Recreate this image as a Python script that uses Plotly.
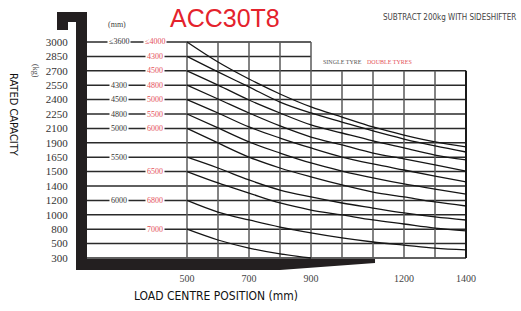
import plotly.graph_objects as go

# ---------------- data ----------------
capacity_labels = ["300", "500", "800", "1000", "1200", "1400", "1500", "1650",
                   "1900", "2100", "2250", "2400", "2550", "2700", "2850", "3000"]
capacity_rows = list(range(16))          # evenly spaced capacity rows (row index)

load_centres = [500, 600, 700, 800, 900, 1000, 1100, 1200, 1300, 1400]
x_tick_vals = [500, 700, 900, 1200, 1400]

# curves: capacity (in row units of the capacity scale) vs load centre
curve_3600_4000 = [15.0, 13.61, 12.43, 11.39, 10.49, 9.79, 9.10, 8.54, 8.06, 7.71]
curve_d4300 = [14.0, 12.92, 11.88, 10.83, 10.07, 9.44, 8.82, 8.26, 7.78, 7.36]
curve_d4500 = [13.0, 12.01, 10.97, 10.07, 9.24, 8.68, 8.13, 7.64, 7.15, 6.81]
curve_4300_4800 = [12.0, 11.04, 10.07, 9.17, 8.40, 7.85, 7.29, 6.88, 6.46, 6.04]
curve_4500_5000 = [11.0, 10.07, 9.10, 8.33, 7.64, 7.01, 6.53, 6.11, 5.69, 5.28]
curve_4800_5500 = [10.0, 9.03, 8.06, 7.29, 6.60, 6.04, 5.56, 5.14, 4.79, 4.44]
curve_5000_6000 = [9.0, 7.99, 7.01, 6.25, 5.63, 5.07, 4.58, 4.24, 3.89, 3.61]
curve_s5500 = [7.0, 6.25, 5.42, 4.72, 4.24, 3.82, 3.47, 3.13, 2.85, 2.64]
curve_d6500 = [6.0, 5.21, 4.51, 3.82, 3.33, 2.99, 2.64, 2.36, 2.08, 1.88]
curve_6000_6800 = [4.0, 3.19, 2.64, 2.15, 1.74, 1.39, 1.11, 0.90, 0.69, 0.56]
curve_d7000 = [2.0, 1.25, 0.69, 0.28, 0.0]

curves = [curve_3600_4000, curve_d4300, curve_d4500, curve_4300_4800,
          curve_4500_5000, curve_4800_5500, curve_5000_6000, curve_s5500,
          curve_d6500, curve_6000_6800, curve_d7000]

# mast heights (mm) written on the capacity rows
single_rows = [15, 12, 11, 10, 9, 7, 4]
single_labels = ["≤3600", "4300", "4500", "4800", "5000", "5500", "6000"]
double_rows = [15, 14, 13, 12, 11, 10, 9, 6, 4, 2]
double_labels = ["≤4000", "4300", "4500", "4800", "5000", "5500", "6000",
                 "6500", "6800", "7000"]

grid_x = [500, 600, 700, 800, 900, 1000, 1100, 1200, 1300, 1400]

# ---------------- layout geometry ----------------
W, H = 521, 311
L, R, T, B = 87, 51, 5, 47
PW, PH = W - L - R, H - T - B
X_RANGE = [177.42, 1412.9]
Y_RANGE = [-0.4167, 17.569]


def px(xp):
    return (xp - L) / PW


def py(yp):
    return (H - B - yp) / PH


fig = go.Figure()

for c in curves:
    fig.add_trace(go.Scatter(x=load_centres[:len(c)], y=c, mode="lines",
                             line=dict(color="#151515", width=1.3, shape="spline"),
                             hoverinfo="skip", showlegend=False))

shapes = []
# horizontal grid lines
for r in capacity_rows:
    x_end = 900 if r >= 14 else 1400
    shapes.append(dict(type="line", xref="x", yref="y", x0=X_RANGE[0], x1=x_end,
                       y0=r, y1=r, line=dict(color="#2a2a2a", width=1.5), layer="below"))
# vertical grid lines
for gx in grid_x:
    top = 15 if gx <= 900 else 13
    shapes.append(dict(type="line", xref="x", yref="y", x0=gx, x1=gx, y0=0, y1=top,
                       line=dict(color="#1a1a1a" if gx == 1400 else "#5a5a5a",
                                 width=2 if gx == 1400 else 1.5), layer="below"))

# thick black frame (decoration)
frame_pts = [(57, 12), (87, 12), (87, 259), (375, 259), (375, 263), (280, 270),
             (76, 270), (76, 22), (68, 22), (68, 30), (57, 30)]
path = "M " + " L ".join(f"{px(a):.4f},{py(b):.4f}" for a, b in frame_pts) + " Z"
shapes.append(dict(type="path", xref="paper", yref="paper", path=path,
                   fillcolor="#231f20", line=dict(width=0), layer="above"))

annotations = []
SERIF = "Liberation Serif, Times New Roman, serif"
NARROW = "DejaVu Sans Condensed, Liberation Sans Narrow, sans-serif"
C = dict(xanchor="center", yanchor="middle", showarrow=False)
for r, t in zip(single_rows, single_labels):
    annotations.append(dict(x=px(119), xref="paper", y=r, yref="y", text=t,
                            bgcolor="white", borderpad=1,
                            font=dict(family=SERIF, size=8, color="#333"), **C))
for r, t in zip(double_rows, double_labels):
    annotations.append(dict(x=px(155), xref="paper", y=r, yref="y", text=t,
                            bgcolor="white", borderpad=1,
                            font=dict(family=SERIF, size=8, color="#e4505a"), **C))

annotations += [
    dict(x=px(225), y=py(18), xref="paper", yref="paper", text="ACC30T8",
         font=dict(family="Liberation Sans, Arial, sans-serif",
                   size=25, color="#e4222c"), **C),
    dict(x=px(518), y=py(17), xref="paper", yref="paper", xanchor="right",
         yanchor="middle", showarrow=False,
         text="SUBTRACT 200kg WITH SIDESHIFTER",
         font=dict(family=NARROW, size=8, color="#444")),
    dict(x=px(117), y=py(25), xref="paper", yref="paper", text="(mm)",
         font=dict(family=SERIF, size=8, color="#444"), **C),
    dict(x=px(36), y=py(71), xref="paper", yref="paper", text="(kg)", textangle=90,
         font=dict(family=SERIF, size=8, color="#444"), **C),
    dict(x=px(14), y=py(115), xref="paper", yref="paper", text="RATED CAPACITY",
         textangle=90, font=dict(family=NARROW, size=11, color="#111"), **C),
    dict(x=px(216), y=py(296), xref="paper", yref="paper",
         text="LOAD CENTRE POSITION (mm)",
         font=dict(family=NARROW, size=12, color="#111"), **C),
    dict(x=px(321), y=py(62), xref="paper", yref="paper", xanchor="left",
         yanchor="middle", showarrow=False, text="SINGLE TYRE",
         font=dict(family=SERIF, size=6, color="#555")),
    dict(x=px(365), y=py(62), xref="paper", yref="paper", xanchor="left",
         yanchor="middle", showarrow=False, text="DOUBLE TYRES",
         font=dict(family=SERIF, size=6, color="#e4505a")),
]

fig.update_layout(
    width=W, height=H, autosize=False,
    margin=dict(l=L, r=R, t=T, b=B, pad=0),
    paper_bgcolor="white", plot_bgcolor="white",
    shapes=shapes, annotations=annotations, showlegend=False,
    xaxis=dict(range=X_RANGE, showgrid=False, zeroline=False, showline=False,
               tickvals=x_tick_vals, ticktext=[str(v) for v in x_tick_vals],
               ticks="outside", ticklen=5, tickcolor="rgba(0,0,0,0)",
               tickfont=dict(family=SERIF, size=10, color="#444")),
    yaxis=dict(range=Y_RANGE, showgrid=False, zeroline=False, showline=False,
               tickvals=capacity_rows, ticktext=capacity_labels,
               ticks="outside", ticklen=16, tickcolor="rgba(0,0,0,0)",
               tickfont=dict(family=SERIF, size=11, color="#333")),
)

fig.write_html("out.html", config={"displayModeBar": False},
               post_script="document.body.style.margin='0';")
